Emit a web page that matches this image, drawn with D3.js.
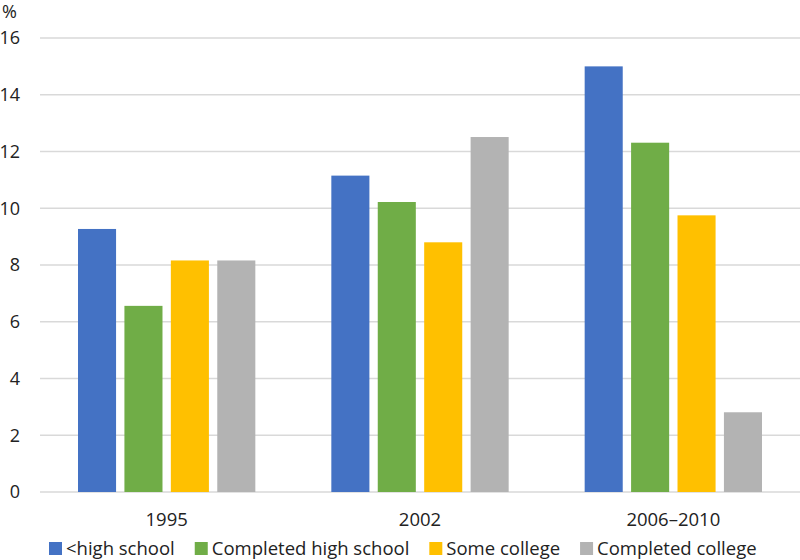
<!DOCTYPE html>
<html><head><meta charset="utf-8">
<script src="https://cdn.jsdelivr.net/npm/d3@7"></script>
<style>body{margin:0;background:#fff}svg{display:block}text{font-family:"Open Sans",sans-serif;fill:#222}</style>
</head><body><svg id="c" width="800" height="560"></svg>
<script>
const categories = ["1995", "2002", "2006\u20132010"];
const seriesNames = ["<high school", "Completed high school", "Some college", "Completed college"];
const seriesColors = ["#4472C4", "#70AD47", "#FFC000", "#B3B3B3"];
const values = [
  [9.27, 11.15, 15.0],
  [6.56, 10.22, 12.31],
  [8.16, 8.8, 9.75],
  [8.16, 12.51, 2.81]
];
const yTicks = [0, 2, 4, 6, 8, 10, 12, 14, 16];

const svg = d3.select("#c");
const m = {l: 40, r: 0, t: 38, b: 68};
const W = 800, H = 560;
const x0 = d3.scaleBand().domain(categories).range([m.l, W - m.r]).paddingInner(0.3).paddingOuter(0.15);
const x1 = d3.scaleBand().domain(seriesNames).range([0, x0.bandwidth()]).paddingInner(0.18);
const y = d3.scaleLinear().domain([0, 16]).range([H - m.b, m.t]);

// gridlines
svg.append("g").selectAll("line").data(yTicks).join("line")
  .attr("x1", m.l).attr("x2", W - m.r)
  .attr("y1", d => y(d)).attr("y2", d => y(d))
  .attr("stroke", "#d9d9d9").attr("stroke-width", 1.3);

// y labels
svg.append("g").selectAll("text").data(yTicks).join("text")
  .attr("x", 20).attr("y", d => y(d)).attr("dy", "0.36em")
  .attr("text-anchor", "end").style("font-size", "18px").text(d => d);
svg.append("text").attr("x", 2).attr("y", 18).style("font-size", "18px").text("%");

// bars
const g = svg.append("g").selectAll("g").data(categories).join("g")
  .attr("transform", c => `translate(${x0(c)},0)`);
g.selectAll("rect").data((c, ci) => seriesNames.map((s, si) => ({s, si, v: values[si][ci]}))).join("rect")
  .attr("x", d => x1(d.s)).attr("width", x1.bandwidth())
  .attr("y", d => y(d.v)).attr("height", d => y(0) - y(d.v))
  .attr("fill", d => seriesColors[d.si]);

// x labels
svg.append("g").selectAll("text").data(categories).join("text")
  .attr("x", c => x0(c) + x0.bandwidth() / 2).attr("y", 526)
  .attr("text-anchor", "middle").style("font-size", "18.5px").text(c => c);

// legend
const leg = svg.append("g");
let lx = 49;
seriesNames.forEach((s, i) => {
  leg.append("rect").attr("x", lx).attr("y", 542).attr("width", 13).attr("height", 13).attr("fill", seriesColors[i]);
  const t = leg.append("text").attr("x", lx + 17).attr("y", 555).style("font-size", "18.5px").text(s);
  lx += 17 + t.node().getComputedTextLength() + 20;
});
</script></body></html>
